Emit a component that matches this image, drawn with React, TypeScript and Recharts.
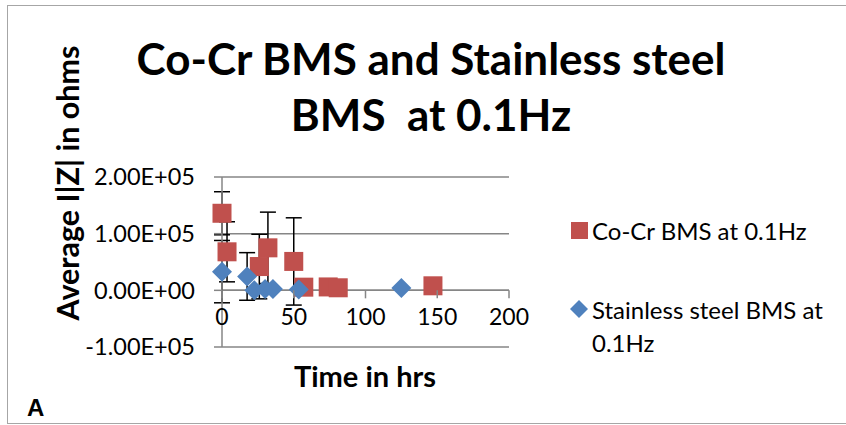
import React from "react";
import {
  ScatterChart,
  Scatter,
  XAxis,
  YAxis,
  CartesianGrid,
  ErrorBar,
  Legend,
  ReferenceLine,
} from "recharts";

// Co-Cr BMS series (hours, ohms, +/- error)
const CO_CR_NAME = "Co-Cr BMS at 0.1Hz";
const CO_CR_TIME = [0, 3.5, 26, 32, 50, 57, 74, 81, 147];
const CO_CR_Z = [136000, 68000, 42000, 75000, 51000, 5600, 6000, 4500, 8000];
const CO_CR_ERR = [38000, 53000, 57000, 63000, 77000, 0, 0, 0, 0];

// Stainless steel BMS series
const SS_NAME = "Stainless steel BMS at 0.1Hz";
const SS_TIME = [0, 17.5, 22.5, 30, 35.5, 53.5, 125];
const SS_Z = [33000, 24500, 0, 2500, 2500, 1500, 4000];
const SS_ERR = [55000, 42000, 0, 0, 0, 0, 0];

const X_TICKS = [0, 50, 100, 150, 200];
const Y_TICKS = [-100000, 0, 100000, 200000];
const Y_MIN = -100000;
const Y_MAX = 200000;

const RED = "#C0504D";
const BLUE = "#4F81BD";
const GRID = "#868686";
const FONT = "Lato, 'Noto Sans', sans-serif";

const W = 846;
const H = 425;
const PLOT_TOP = 177;
const PLOT_BOTTOM = 347;
const PLOT_LEFT = 222;
const PLOT_RIGHT = 509;
const Y_AXIS_W = 120;
const X_AXIS_H = 30;
const PLOT_H = PLOT_BOTTOM - PLOT_TOP;
const ZERO_OFFSET = (PLOT_H * (0 - Y_MIN)) / (Y_MAX - Y_MIN);

const coCrData = CO_CR_TIME.map((t, i) => ({ x: t, y: CO_CR_Z[i], err: CO_CR_ERR[i] }));
const ssData = SS_TIME.map((t, i) => ({ x: t, y: SS_Z[i], err: SS_ERR[i] }));

const formatSci = (v: number) => {
  const [m, e] = v.toExponential(2).split("e");
  const n = parseInt(e, 10);
  const sign = n < 0 ? "-" : "+";
  return `${m}E${sign}${String(Math.abs(n)).padStart(2, "0")}`;
};

const SquareShape = (props: any) => {
  const { cx, cy } = props;
  const s = 19;
  return <rect x={cx - s / 2} y={cy - s / 2} width={s} height={s} fill={RED} />;
};

const DiamondShape = (props: any) => {
  const { cx, cy } = props;
  const r = 10;
  return (
    <polygon
      points={`${cx},${cy - r} ${cx + r},${cy} ${cx},${cy + r} ${cx - r},${cy}`}
      fill={BLUE}
    />
  );
};

// x axis crosses at y = 0, so ticks are drawn up from the bottom edge
const XTick = (props: any) => {
  const { x, y, payload } = props;
  const y0 = y - ZERO_OFFSET;
  return (
    <g>
      <line x1={x} y1={y0} x2={x} y2={y0 + 8} stroke={GRID} strokeWidth={1.5} />
      <text x={x} y={y0 + 35} textAnchor="middle" fontSize={23} fontFamily={FONT} fill="#000">
        {payload.value}
      </text>
    </g>
  );
};

const renderLegend = () => (
  <div style={{ fontFamily: FONT, fontSize: 24, color: "#000", width: 262 }}>
    <div style={{ display: "flex", alignItems: "flex-start", lineHeight: "33px" }}>
      <svg width={24} height={33} style={{ flexShrink: 0 }}>
        <rect x={3} y={8} width={17} height={17} fill={RED} />
      </svg>
      <span>{CO_CR_NAME}</span>
    </div>
    <div style={{ display: "flex", alignItems: "flex-start", lineHeight: "33px", marginTop: 46 }}>
      <svg width={24} height={33} style={{ flexShrink: 0 }}>
        <polygon points="11,7 20,16 11,25 2,16" fill={BLUE} />
      </svg>
      <span>{SS_NAME}</span>
    </div>
  </div>
);

export default function App() {
  return (
    <div style={{ position: "absolute", left: 0, top: 0, width: W, height: H, background: "#fff", overflow: "hidden" }}>
      <div
        style={{
          position: "absolute",
          left: 7,
          top: 5,
          width: 900,
          height: 417,
          border: "1.5px solid #a6a6a6",
        }}
      />
      <ScatterChart
        width={W}
        height={H}
        margin={{
          top: PLOT_TOP,
          right: W - PLOT_RIGHT,
          bottom: H - PLOT_BOTTOM - X_AXIS_H,
          left: PLOT_LEFT - Y_AXIS_W,
        }}
      >
        <CartesianGrid vertical={false} stroke={GRID} strokeWidth={1.5} />
        <XAxis
          type="number"
          dataKey="x"
          domain={[0, 200]}
          ticks={X_TICKS}
          axisLine={false}
          tickLine={false}
          tickSize={0}
          tickMargin={0}
          height={X_AXIS_H}
          tick={<XTick />}
          interval={0}
        />
        <YAxis
          type="number"
          dataKey="y"
          domain={[Y_MIN, Y_MAX]}
          ticks={Y_TICKS}
          width={Y_AXIS_W}
          tickFormatter={formatSci}
          stroke={GRID}
          strokeWidth={1.5}
          tickSize={8}
          tickMargin={19}
          tick={{ fill: "#000", fontSize: 23.5, fontFamily: FONT }}
          interval={0}
        />
        <ReferenceLine y={0} stroke={GRID} strokeWidth={1.5} />
        <Legend
          layout="vertical"
          align="center"
          verticalAlign="middle"
          content={renderLegend}
          wrapperStyle={{ left: 568, top: 214, width: 270 }}
        />
        <Scatter name={CO_CR_NAME} data={coCrData} fill={RED} shape={<SquareShape />} isAnimationActive={false}>
          <ErrorBar dataKey="err" direction="y" width={8} stroke="#000" strokeWidth={1.5} />
        </Scatter>
        <Scatter name={SS_NAME} data={ssData} fill={BLUE} shape={<DiamondShape />} isAnimationActive={false}>
          <ErrorBar dataKey="err" direction="y" width={8} stroke="#000" strokeWidth={1.5} />
        </Scatter>
      </ScatterChart>
      <div
        style={{
          position: "absolute",
          left: 0,
          top: 30,
          width: 862,
          textAlign: "center",
          fontFamily: FONT,
          fontWeight: 700,
          fontSize: 44,
          lineHeight: "56px",
          whiteSpace: "pre",
        }}
      >
        {"Co-Cr BMS and Stainless steel\nBMS  at 0.1Hz"}
      </div>
      <div
        style={{
          position: "absolute",
          left: 67,
          top: 183,
          transform: "translate(-50%, -50%) rotate(-90deg)",
          fontFamily: FONT,
          fontWeight: 700,
          fontSize: 30.5,
          whiteSpace: "nowrap",
        }}
      >
        Average I|Z| in ohms
      </div>
      <div
        style={{
          position: "absolute",
          left: 365,
          top: 375,
          transform: "translate(-50%, -50%)",
          fontFamily: FONT,
          fontWeight: 700,
          fontSize: 29,
          whiteSpace: "nowrap",
        }}
      >
        Time in hrs
      </div>
      <div
        style={{
          position: "absolute",
          left: 27,
          top: 394,
          fontFamily: "'Liberation Sans', Arial, sans-serif",
          fontWeight: 700,
          fontSize: 24,
        }}
      >
        A
      </div>
    </div>
  );
}
